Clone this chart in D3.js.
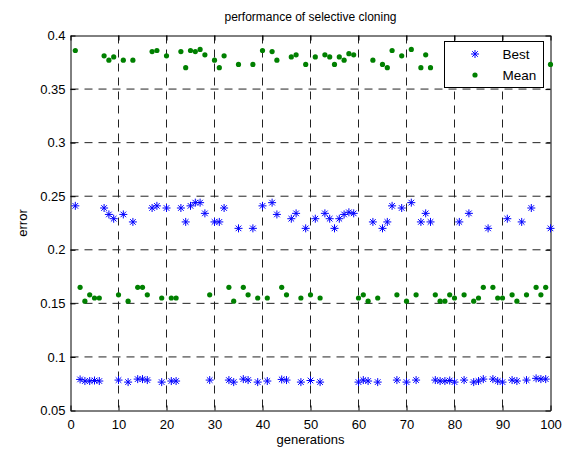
<!DOCTYPE html>
<html>
<head>
<meta charset="utf-8">
<script src="https://cdn.jsdelivr.net/npm/d3@7"></script>
<style>
	body { margin: 0; background: #fff; }
	svg { font-family: "Liberation Sans", Arial, sans-serif; }
</style>
</head>
<body>
<div id="plot"></div>
<script>
// Values, one entry per generation (1..100)
const generations = [
	1, 2, 3, 4, 5, 6, 7, 8, 9, 10, 11, 12, 13, 14, 15, 16, 17, 18, 19, 20,
	21, 22, 23, 24, 25, 26, 27, 28, 29, 30, 31, 32, 33, 34, 35, 36, 37, 38, 39, 40,
	41, 42, 43, 44, 45, 46, 47, 48, 49, 50, 51, 52, 53, 54, 55, 56, 57, 58, 59, 60,
	61, 62, 63, 64, 65, 66, 67, 68, 69, 70, 71, 72, 73, 74, 75, 76, 77, 78, 79, 80,
	81, 82, 83, 84, 85, 86, 87, 88, 89, 90, 91, 92, 93, 94, 95, 96, 97, 98, 99, 100
];
const bestError = [
	0.241, 0.079, 0.0775, 0.0775, 0.078, 0.0775, 0.239, 0.233, 0.229, 0.0784,
	0.233, 0.0765, 0.226, 0.0793, 0.0793, 0.0784, 0.239, 0.241, 0.0765, 0.239,
	0.0775, 0.0775, 0.239, 0.226, 0.241, 0.244, 0.244, 0.234, 0.0784, 0.226,
	0.226, 0.239, 0.0784, 0.0765, 0.220, 0.0793, 0.0784, 0.220, 0.0765, 0.241,
	0.0775, 0.244, 0.233, 0.079, 0.0784, 0.229, 0.234, 0.0765, 0.220, 0.078,
	0.229, 0.0765, 0.234, 0.229, 0.220, 0.229, 0.233, 0.235, 0.234, 0.0765,
	0.0784, 0.0775, 0.226, 0.0765, 0.220, 0.226, 0.241, 0.0784, 0.239, 0.0765,
	0.244, 0.0784, 0.226, 0.234, 0.226, 0.0784, 0.0775, 0.0775, 0.078, 0.0765,
	0.226, 0.0784, 0.234, 0.0765, 0.0775, 0.0793, 0.220, 0.0793, 0.0775, 0.0765,
	0.229, 0.0784, 0.0775, 0.226, 0.0784, 0.239, 0.080, 0.0793, 0.0793, 0.220
];
// null where the point sits behind the legend box
const meanError = [
	0.386, 0.165, 0.152, 0.158, 0.155, 0.155, 0.381, 0.377, 0.380, 0.158,
	0.377, 0.152, 0.377, 0.165, 0.165, 0.158, 0.385, 0.386, 0.155, 0.381,
	0.155, 0.155, 0.385, 0.370, 0.386, 0.385, 0.387, 0.382, 0.158, 0.377,
	0.370, 0.381, 0.165, 0.152, 0.373, 0.165, 0.158, 0.373, 0.155, 0.386,
	0.155, 0.385, 0.377, 0.165, 0.158, 0.380, 0.382, 0.155, 0.373, 0.158,
	0.380, 0.155, 0.382, 0.380, 0.373, 0.380, 0.377, 0.383, 0.382, 0.155,
	0.158, 0.152, 0.377, 0.155, 0.373, 0.370, 0.386, 0.158, 0.381, 0.152,
	0.387, 0.158, 0.370, 0.382, 0.370, 0.158, 0.152, 0.152, 0.158, 0.155,
	null, 0.158, null, 0.152, 0.155, 0.165, null, 0.165, 0.155, 0.155,
	null, 0.158, 0.152, null, 0.158, null, 0.165, 0.158, 0.165, 0.373
];
const xTicks = [0, 10, 20, 30, 40, 50, 60, 70, 80, 90, 100];
const yTicks = [0.05, 0.1, 0.15, 0.2, 0.25, 0.3, 0.35, 0.4];
const seriesNames = ["Best", "Mean"];

const width = 575, height = 451;
const margins = { left: 70.5, right: 24.5, top: 35.5, bottom: 40.5 };
const innerW = width - margins.left - margins.right;
const innerH = height - margins.top - margins.bottom;

const svg = d3.select("#plot")
	.append("svg")
		.attr("width", width).attr("height", height);
const g = svg.append("g")
	.attr("transform", `translate(${margins.left}, ${margins.top})`);

const xAxis = d3.scaleLinear().domain([0, 100]).range([0, innerW]);
const yAxis = d3.scaleLinear().domain([0.05, 0.4]).range([innerH, 0]);

// Dashed grid
g.append("g").selectAll("line")
	.data(xTicks.slice(1, -1))
	.enter().append("line")
		.attr("x1", d => xAxis(d)).attr("x2", d => xAxis(d))
		.attr("y1", 0).attr("y2", innerH)
		.attr("stroke", "#222").attr("stroke-dasharray", "8,6");
g.append("g").selectAll("line")
	.data(yTicks.slice(1, -1))
	.enter().append("line")
		.attr("y1", d => yAxis(d)).attr("y2", d => yAxis(d))
		.attr("x1", 0).attr("x2", innerW)
		.attr("stroke", "#222").attr("stroke-dasharray", "8,6");

// Axes with inward ticks on all four sides
const styleAxis = sel => {
	sel.select(".domain").attr("stroke", "#000");
	sel.selectAll(".tick line").attr("stroke", "#000");
	sel.selectAll(".tick text").attr("fill", "#000").style("font-size", "13px");
};
g.append("g").attr("transform", `translate(0, ${innerH})`)
	.call(d3.axisBottom(xAxis).tickValues(xTicks).tickSizeInner(-5).tickSizeOuter(0).tickPadding(9))
	.call(styleAxis);
g.append("g")
	.call(d3.axisLeft(yAxis).tickValues(yTicks).tickFormat(d3.format("~g")).tickSizeInner(-5).tickSizeOuter(0).tickPadding(5))
	.call(styleAxis);
g.append("g")
	.call(d3.axisTop(xAxis).tickValues(xTicks).tickSizeInner(-5).tickSizeOuter(0).tickFormat(""))
	.call(styleAxis);
g.append("g").attr("transform", `translate(${innerW}, 0)`)
	.call(d3.axisRight(yAxis).tickValues(yTicks).tickSizeInner(-5).tickSizeOuter(0).tickFormat(""))
	.call(styleAxis);

// MATLAB style asterisk: a plus with an x through it
const asterisk = {
	draw(context, size) {
		const r = Math.sqrt(size) / 2;
		const d = r * 0.7;
		context.moveTo(-r, 0); context.lineTo(r, 0);
		context.moveTo(0, -r); context.lineTo(0, r);
		context.moveTo(-d, -d); context.lineTo(d, d);
		context.moveTo(-d, d); context.lineTo(d, -d);
	}
};
const starPath = d3.symbol().type(asterisk).size(64)();

const bestPoints = generations.map((gen, i) => ({ gen: gen, value: bestError[i] }));
const meanPoints = generations.map((gen, i) => ({ gen: gen, value: meanError[i] })).filter(d => d.value !== null);

g.append("g").selectAll("path")
	.data(bestPoints)
	.enter().append("path")
		.attr("d", starPath)
		.attr("transform", d => `translate(${xAxis(d.gen)}, ${yAxis(d.value)})`)
		.attr("fill", "none").attr("stroke", "#0000ff").attr("stroke-width", 1);

g.append("g").selectAll("circle")
	.data(meanPoints)
	.enter().append("circle")
		.attr("cx", d => xAxis(d.gen))
		.attr("cy", d => yAxis(d.value))
		.attr("r", 2.6)
		.attr("fill", "#008000");

// Legend with white background covering the points behind it
const legend = svg.append("g").attr("transform", "translate(444.5, 41.5)");
legend.append("rect")
	.attr("width", 99).attr("height", 46)
	.attr("fill", "#fff").attr("stroke", "#000");
legend.append("path")
	.attr("d", starPath)
	.attr("transform", "translate(30.5, 12.5)")
	.attr("fill", "none").attr("stroke", "#0000ff");
legend.append("circle")
	.attr("cx", 30.5).attr("cy", 33.5).attr("r", 2.6)
	.attr("fill", "#008000");
legend.selectAll("text")
	.data(seriesNames)
	.enter().append("text")
		.attr("x", 58)
		.attr("y", (d, i) => 17.5 + i * 21)
		.style("font-size", "13.5px")
		.text(d => d);

// Title and axis labels
svg.append("text")
	.attr("x", margins.left + innerW / 2).attr("y", 21)
	.style("text-anchor", "middle").style("font-size", "12px")
	.text("performance of selective cloning");
svg.append("text")
	.attr("x", margins.left + innerW / 2).attr("y", 444)
	.style("text-anchor", "middle").style("font-size", "13px")
	.text("generations");
svg.append("text")
	.attr("transform", `translate(27, ${margins.top + innerH / 2}) rotate(-90)`)
	.style("text-anchor", "middle").style("font-size", "13px")
	.text("error");
</script>
</body>
</html>
